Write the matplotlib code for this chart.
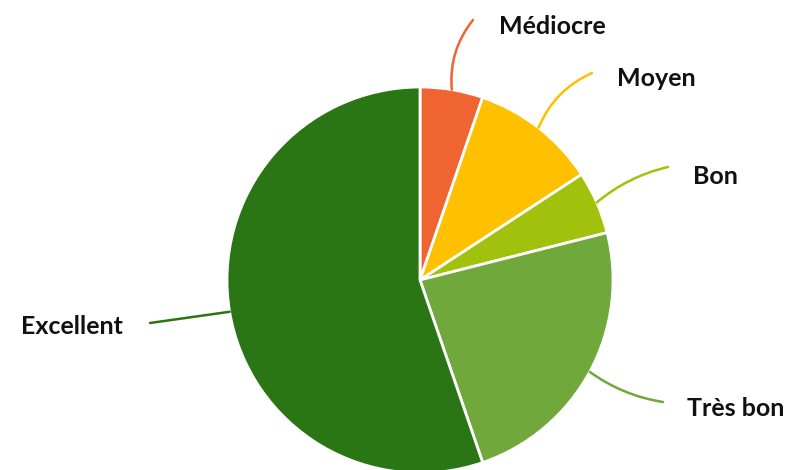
import matplotlib
matplotlib.use("Agg")
import matplotlib.pyplot as plt
import numpy as np

categories = ["Médiocre", "Moyen", "Bon", "Très bon", "Excellent"]
values = [2, 4, 2, 9, 21]
colors = ["#F06432", "#FFC000", "#A2C10C", "#70A83C", "#2A7514"]

W, H = 796, 470
# label layout (pixel coords, y down) -> converted to y up below
label_pos_px = [(499, 26), (617, 79), (693, 176), (687, 408), (123, 327)]
label_ha = ["left", "left", "left", "left", "right"]
line_end_px = [(473, 20), (592, 73), (668, 167), (663, 402), (150, 323)]
line_rad = [0.2, 0.2, 0.12, -0.12, 0.0]

fig = plt.figure(figsize=(W / 100, H / 100), dpi=100)
ax = fig.add_axes([0, 0, 1, 1])

cx, cy, R = 420, H - 280, 193
wedges, _ = ax.pie(values, colors=colors, startangle=90, counterclock=False,
                   center=(cx, cy), radius=R, frame=True,
                   wedgeprops=dict(edgecolor="white", linewidth=2))
ax.set_xlim(0, W)
ax.set_ylim(0, H)
ax.set_aspect("equal")
ax.axis("off")

for w, lab, pos, ha, end, rad, col in zip(wedges, categories, label_pos_px, label_ha,
                                          line_end_px, line_rad, colors):
    mid = np.deg2rad((w.theta1 + w.theta2) / 2)
    sx = cx + R * np.cos(mid)
    sy = cy + R * np.sin(mid)
    ax.annotate("", xy=(sx, sy), xytext=(end[0], H - end[1]),
                arrowprops=dict(arrowstyle="-", color=col, lw=1.8,
                                shrinkA=0, shrinkB=0,
                                connectionstyle=f"arc3,rad={rad}"))
    ax.text(pos[0], H - pos[1], lab, ha=ha, va="center", fontsize=18,
            fontweight="bold", family="Lato", color="#111111")

fig.savefig("out.png", dpi=100)
